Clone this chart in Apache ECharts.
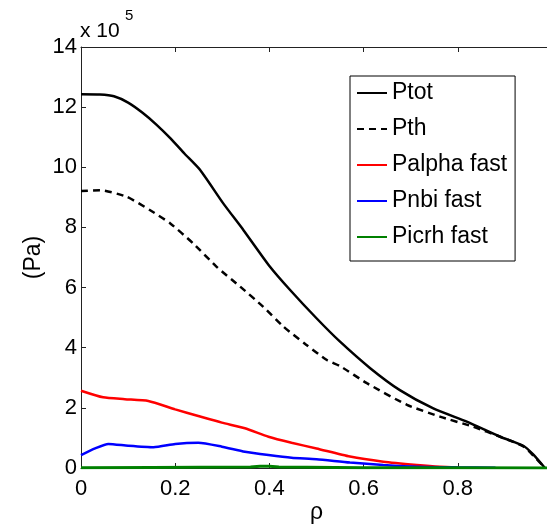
<!DOCTYPE html>
<html>
<head>
<meta charset="utf-8">
<script src="https://cdn.jsdelivr.net/npm/echarts@6/dist/echarts.min.js"></script>
<style>html,body{margin:0;padding:0;background:#fff}#c{width:547px;height:524px}</style>
</head>
<body>
<div id="c"></div>
<script>
// values in units of 10^5 Pa
var ptotRho = [0, 0.04, 0.07, 0.1, 0.13, 0.16, 0.19, 0.22, 0.253, 0.302, 0.345, 0.40, 0.444, 0.50, 0.55, 0.614, 0.677, 0.748, 0.819, 0.89, 0.939, 0.96, 0.985];
var ptotVal = [12.43, 12.42, 12.36, 12.15, 11.82, 11.42, 10.96, 10.45, 9.91, 8.80, 7.91, 6.72, 5.92, 4.98, 4.20, 3.32, 2.59, 1.98, 1.54, 1.04, 0.74, 0.45, 0];
var pthRho = [0, 0.04, 0.097, 0.146, 0.189, 0.238, 0.288, 0.338, 0.387, 0.43, 0.478, 0.522, 0.55, 0.607, 0.692, 0.762, 0.833, 0.89, 0.939, 0.96, 0.985];
var pthVal = [9.21, 9.24, 9.02, 8.58, 8.14, 7.47, 6.69, 6.03, 5.36, 4.70, 4.10, 3.59, 3.39, 2.82, 2.10, 1.71, 1.37, 1.04, 0.72, 0.42, 0];
var palphaRho = [0, 0.047, 0.093, 0.143, 0.2, 0.249, 0.299, 0.348, 0.398, 0.447, 0.5, 0.571, 0.642, 0.713, 0.762, 0.8];
var palphaVal = [2.57, 2.35, 2.29, 2.23, 1.95, 1.73, 1.51, 1.32, 1.04, 0.84, 0.65, 0.38, 0.21, 0.10, 0.04, 0.02];
var pnbiRho = [0, 0.03, 0.058, 0.1, 0.154, 0.2, 0.249, 0.299, 0.348, 0.398, 0.447, 0.5, 0.571, 0.642, 0.713, 0.8, 0.88];
var pnbiVal = [0.43, 0.65, 0.80, 0.74, 0.69, 0.80, 0.84, 0.71, 0.54, 0.43, 0.34, 0.29, 0.18, 0.10, 0.04, 0.02, 0.01];
var picrhRho = [0, 0.15, 0.36, 0.38, 0.40, 0.42, 0.6, 0.8, 1.0];
var picrhVal = [0.01, 0.02, 0.03, 0.06, 0.06, 0.03, 0.01, 0.005, 0];
var seriesNames = ['Ptot', 'Pth', 'Palpha fast', 'Pnbi fast', 'Picrh fast'];
var xTicks = [0, 0.2, 0.4, 0.6, 0.8];
var yTicks = [0, 2, 4, 6, 8, 10, 12, 14];

function pairs(xs, ys) { return xs.map(function (x, i) { return [x, ys[i]]; }); }
var FONT = 'Liberation Sans, Arial, Helvetica, sans-serif';
var chart = echarts.init(document.getElementById('c'));
var axisCol = '#222';
chart.setOption({
  animation: false,
  backgroundColor: '#fff',
  grid: { left: 81, top: 47, width: 471, height: 421, containLabel: false, outerBoundsMode: 'none' },
  legend: {
    orient: 'vertical', left: 350, top: 76,
    data: seriesNames,
    itemWidth: 30, itemHeight: 14, itemGap: 10,
    padding: [4, 8, 11, 6],
    borderColor: '#000', borderWidth: 1, backgroundColor: '#fff',
    itemStyle: { opacity: 0 },
    textStyle: { fontFamily: FONT, fontSize: 23, color: '#000', lineHeight: 26 }
  },
  xAxis: [{
    type: 'value', min: 0, max: 1, interval: 0.2,
    name: 'ρ', nameLocation: 'middle', nameGap: 33, nameMoveOverlap: false,
    nameTextStyle: { fontFamily: FONT, fontSize: 23, color: '#000' },
    axisLine: { lineStyle: { color: axisCol, width: 1 } },
    axisTick: { inside: true, length: 5, lineStyle: { color: axisCol } },
    axisLabel: { fontFamily: FONT, fontSize: 22, color: '#000', margin: 10,
      formatter: function (v) { return xTicks.indexOf(Math.round(v * 10) / 10) >= 0 ? String(Math.round(v * 10) / 10) : ''; } },
    splitLine: { show: false }
  }, {
    type: 'value', min: 0, max: 1, interval: 0.2, position: 'top',
    axisLine: { show: true, lineStyle: { color: axisCol, width: 1 } },
    axisTick: { inside: true, length: 5, lineStyle: { color: axisCol } },
    axisLabel: { show: false }, splitLine: { show: false }
  }],
  yAxis: [{
    type: 'value', min: 0, max: 14, interval: 2,
    name: '(Pa)', nameLocation: 'middle', nameGap: 36, nameRotate: 90, nameMoveOverlap: false,
    nameTextStyle: { fontFamily: FONT, fontSize: 23, color: '#000' },
    axisLine: { show: true, lineStyle: { color: axisCol, width: 1 } },
    axisTick: { inside: true, length: 5, lineStyle: { color: axisCol } },
    axisLabel: { fontFamily: FONT, fontSize: 22, color: '#000', margin: 4,
      formatter: function (v) { return yTicks.indexOf(v) >= 0 ? String(v) : ''; } },
    splitLine: { show: false }
  }],
  graphic: [
    { type: 'text', left: 80, top: 21, style: { text: 'x 10', fontFamily: FONT, fontSize: 21, fill: '#000' } },
    { type: 'text', left: 125, top: 8, style: { text: '5', fontFamily: FONT, fontSize: 15, fill: '#000' } }
  ],
  series: [
    { name: seriesNames[0], type: 'line', symbol: 'none', smooth: 0.2, data: pairs(ptotRho, ptotVal),
      lineStyle: { color: '#000', width: 2.5 }, itemStyle: { color: '#000' } },
    { name: seriesNames[1], type: 'line', symbol: 'none', smooth: 0.2, data: pairs(pthRho, pthVal),
      lineStyle: { color: '#000', width: 2.5, type: [7, 5] }, itemStyle: { color: '#000' } },
    { name: seriesNames[2], type: 'line', symbol: 'none', smooth: 0.2, data: pairs(palphaRho, palphaVal),
      lineStyle: { color: '#ff0000', width: 2.5 }, itemStyle: { color: '#ff0000' } },
    { name: seriesNames[3], type: 'line', symbol: 'none', smooth: 0.2, data: pairs(pnbiRho, pnbiVal),
      lineStyle: { color: '#0000ff', width: 2.5 }, itemStyle: { color: '#0000ff' } },
    { name: seriesNames[4], type: 'line', symbol: 'none', data: pairs(picrhRho, picrhVal),
      lineStyle: { color: '#008000', width: 3 }, itemStyle: { color: '#008000' } }
  ]
});
</script>
</body>
</html>
